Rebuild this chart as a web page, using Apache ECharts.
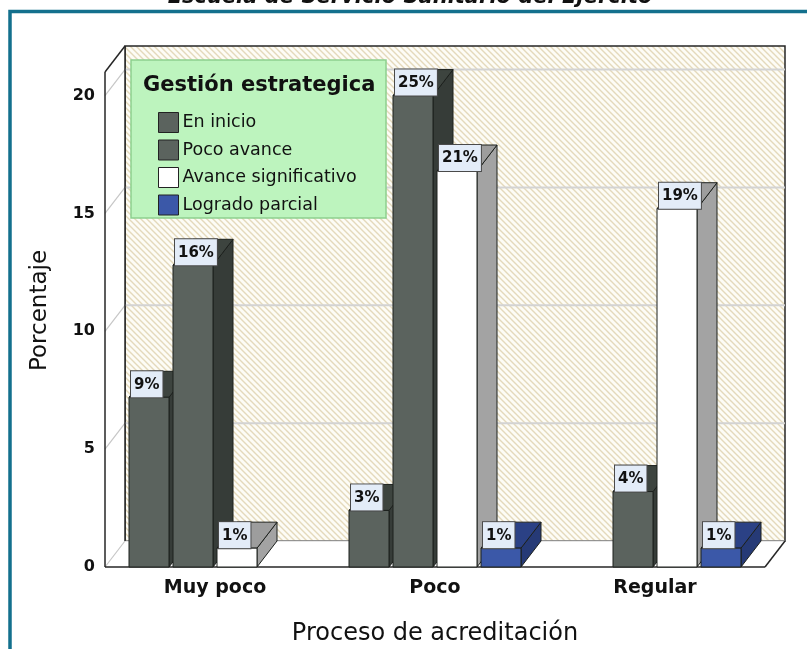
<!DOCTYPE html>
<html>
<head>
<meta charset="utf-8">
<script src="https://cdn.jsdelivr.net/npm/echarts@6/dist/echarts.min.js"></script>
<style>
  html, body { margin: 0; padding: 0; background: #ffffff; }
  #chart { width: 807px; height: 649px; }
</style>
</head>
<body>
<div id="chart"></div>
<script>
// Categories of "Proceso de acreditación"
const categories = ['Muy poco', 'Poco', 'Regular'];

// Series of "Gestión estrategica" (percent labels shown on the bars)
const seriesNames = ['En inicio', 'Poco avance', 'Avance significativo', 'Logrado parcial'];
const enInicio = [9, 3, null];
const pocoAvance = [16, 25, 4];
const avanceSignificativo = [1, 21, 19];
const logradoParcial = [null, 1, 1];

// Porcentaje axis ticks
const yTicks = [0, 5, 10, 15, 20];
const axisMax = 21;
// The printed bar percentages run on a 25:20 scale of the Porcentaje axis
const labelScale = 25 / 20;

// 3D depth offset of the chart box and bars
const DX = 20, DY = -26;

const FONT = '"DejaVu Sans", "Liberation Sans", Arial, sans-serif';

const palettes = [
  { front: '#5b635e', side: '#363c38', top: '#3d443f' },
  { front: '#5b635e', side: '#363c38', top: '#3d443f' },
  { front: '#ffffff', side: '#a3a3a3', top: '#9d9d9d' },
  { front: '#3b58a8', side: '#263a76', top: '#2b4185' }
];
const seriesData = [enInicio, pocoAvance, avanceSignificativo, logradoParcial];

// Diagonal hatch used on the back wall
function makeHatch() {
  const c = document.createElement('canvas');
  c.width = 6; c.height = 6;
  const g = c.getContext('2d');
  g.fillStyle = '#fdfcf6';
  g.fillRect(0, 0, 6, 6);
  g.strokeStyle = '#e4d9bb';
  g.lineWidth = 1.4;
  g.beginPath();
  g.moveTo(-1, -1); g.lineTo(7, 7);
  g.moveTo(-1, 5); g.lineTo(1, 7);
  g.moveTo(5, -1); g.lineTo(7, 1);
  g.stroke();
  return c;
}
const hatch = makeHatch();

function renderWalls(params, api) {
  const cs = params.coordSys;
  const x = cs.x, y = cs.y, w = cs.width, h = cs.height;
  const edge = { stroke: '#262626', lineWidth: 1.5 };
  const children = [];
  // back wall
  children.push({
    type: 'rect',
    shape: { x: x + DX, y: y + DY, width: w, height: h },
    style: { fill: { image: hatch, repeat: 'repeat' }, stroke: '#262626', lineWidth: 1.5 }
  });
  // floor
  children.push({
    type: 'polygon',
    shape: { points: [[x, y + h], [x + DX, y + h + DY], [x + w + DX, y + h + DY], [x + w, y + h]] },
    style: { fill: '#ffffff', stroke: null }
  });
  // left wall
  children.push({
    type: 'polygon',
    shape: { points: [[x, y], [x + DX, y + DY], [x + DX, y + h + DY], [x, y + h]] },
    style: { fill: '#ffffff', stroke: null }
  });
  // gridlines on back wall and left wall
  yTicks.forEach(function (t) {
    const p = api.coord([0, t]);
    const py = p[1];
    if (t > 0) {
      children.push({
        type: 'line',
        shape: { x1: x + DX, y1: py + DY, x2: x + w + DX, y2: py + DY },
        style: { stroke: '#d3d3d3', lineWidth: 2 }
      });
    }
    children.push({
      type: 'line',
      shape: { x1: x, y1: py, x2: x + DX, y2: py + DY },
      style: { stroke: '#c6c6c6', lineWidth: 1.2 }
    });
  });
  // floor back edge
  children.push({
    type: 'line',
    shape: { x1: x + DX, y1: y + h + DY, x2: x + w + DX, y2: y + h + DY },
    style: { stroke: '#cfcfcf', lineWidth: 1.2 }
  });
  // dark outline edges
  children.push({ type: 'line', shape: { x1: x + DX, y1: y + DY, x2: x + DX, y2: y + h + DY }, style: edge });
  children.push({ type: 'line', shape: { x1: x, y1: y, x2: x + DX, y2: y + DY }, style: edge });
  children.push({ type: 'line', shape: { x1: x, y1: y, x2: x, y2: y + h }, style: edge });
  children.push({ type: 'line', shape: { x1: x, y1: y + h, x2: x + w, y2: y + h }, style: edge });
  children.push({ type: 'line', shape: { x1: x + w, y1: y + h, x2: x + w + DX, y2: y + h + DY }, style: edge });
  return { type: 'group', children: children };
}

function makeBarRenderer(slot, pal) {
  return function (params, api) {
    const v = api.value(1);
    if (v == null || isNaN(v)) return null;
    const cat = api.value(0);
    const base = api.coord([cat, 0]);
    const topPt = api.coord([cat, v]);
    const band = api.size([1, 0])[0];
    const slotW = band * 0.2;
    const bw = slotW - 4;
    const x0 = base[0] + (slot - 2) * slotW + 2;
    const x1 = x0 + bw;
    const yb = base[1], yt = topPt[1];
    const line = { stroke: '#1c201d', lineWidth: 1 };
    return {
      type: 'group',
      children: [
        {
          type: 'polygon',
          shape: { points: [[x1, yt], [x1 + DX, yt + DY], [x1 + DX, yb + DY], [x1, yb]] },
          style: Object.assign({ fill: pal.side }, line)
        },
        {
          type: 'polygon',
          shape: { points: [[x0, yt], [x0 + DX, yt + DY], [x1 + DX, yt + DY], [x1, yt]] },
          style: Object.assign({ fill: pal.top }, line)
        },
        {
          type: 'rect',
          shape: { x: x0, y: yt, width: bw, height: yb - yt },
          style: Object.assign({ fill: pal.front }, line)
        },
        {
          type: 'text',
          x: x0 + 2,
          y: yt,
          style: {
            text: v + '%',
            font: 'bold 15px ' + FONT,
            fill: '#111111',
            align: 'left',
            verticalAlign: 'bottom',
            backgroundColor: '#e3ecf8',
            borderColor: '#4a4a4a',
            borderWidth: 1,
            padding: [5, 3, 4, 3],
            lineHeight: 17
          }
        }
      ]
    };
  };
}

const chart = echarts.init(document.getElementById('chart'), null, { renderer: 'canvas' });

const barSeries = seriesNames.map(function (name, i) {
  return {
    name: name,
    type: 'custom',
    yAxisIndex: 1,
    renderItem: makeBarRenderer(i, palettes[i]),
    itemStyle: { color: palettes[i].front, borderColor: '#222222', borderWidth: 1 },
    encode: { x: 0, y: 1 },
    data: categories.map(function (c, j) { return [j, seriesData[i][j]]; }),
    z: 3
  };
});

chart.setOption({
  animation: false,
  backgroundColor: '#ffffff',
  grid: { left: 105, right: 42, top: 72, bottom: 82, containLabel: false, outerBoundsMode: 'none' },
  xAxis: {
    type: 'category',
    data: categories,
    axisLine: { show: false },
    axisTick: { show: false },
    splitLine: { show: false },
    axisLabel: { fontFamily: FONT, fontWeight: 'bold', fontSize: 19, color: '#111111', margin: 12 },
    name: 'Proceso de acreditación',
    nameLocation: 'middle',
    nameGap: 55,
    nameTextStyle: { fontFamily: FONT, fontSize: 24, color: '#111111' }
  },
  yAxis: [
    {
      type: 'value',
      min: 0,
      max: axisMax,
      interval: 5,
      axisLine: { show: false },
      axisTick: { show: false },
      splitLine: { show: false },
      axisLabel: {
        fontFamily: FONT, fontWeight: 'bold', fontSize: 16, color: '#111111', margin: 10,
        showMaxLabel: false,
        formatter: function (val) { return yTicks.indexOf(val) >= 0 ? String(val) : ''; }
      },
      name: 'Porcentaje',
      nameLocation: 'middle',
      nameRotate: 90,
      nameGap: 53,
      nameTextStyle: { fontFamily: FONT, fontSize: 23, color: '#111111', padding: [0, 0, 0, 18] }
    },
    {
      type: 'value',
      show: false,
      min: 0,
      max: axisMax * labelScale
    }
  ],
  legend: {
    data: seriesNames,
    orient: 'vertical',
    left: 158,
    top: 112,
    padding: 0,
    itemWidth: 20,
    itemHeight: 20,
    itemGap: 6.5,
    icon: 'rect',
    itemStyle: { borderColor: '#222222', borderWidth: 1 },
    textStyle: { fontFamily: FONT, fontSize: 17.5, color: '#111111', padding: [0, 0, 0, -1] },
    selectedMode: false,
    z: 10
  },
  graphic: [
    {
      type: 'rect',
      shape: { x: 131, y: 60, width: 255, height: 158 },
      style: { fill: '#bdf4be', stroke: '#8dd08e', lineWidth: 1.5 },
      z: 9
    },
    {
      type: 'text',
      x: 143, y: 86,
      style: { text: 'Gestión estrategica', font: 'bold 21px ' + FONT, fill: '#111111', verticalAlign: 'middle' },
      z: 10
    },
    {
      type: 'text',
      x: 410, y: -2,
      style: { text: 'Escuela de Servicio Sanitario del Ejército', font: 'italic bold 21px ' + FONT, fill: '#111111', align: 'center', verticalAlign: 'middle' },
      z: 10
    },
    {
      type: 'rect',
      shape: { x: 10, y: 11.5, width: 900, height: 800 },
      style: { fill: null, stroke: '#13708d', lineWidth: 3.5 },
      z: 10
    }
  ],
  series: [
    {
      name: 'walls',
      type: 'custom',
      renderItem: renderWalls,
      data: [[0, 0]],
      silent: true,
      z: 1
    }
  ].concat(barSeries)
});
</script>
</body>
</html>
